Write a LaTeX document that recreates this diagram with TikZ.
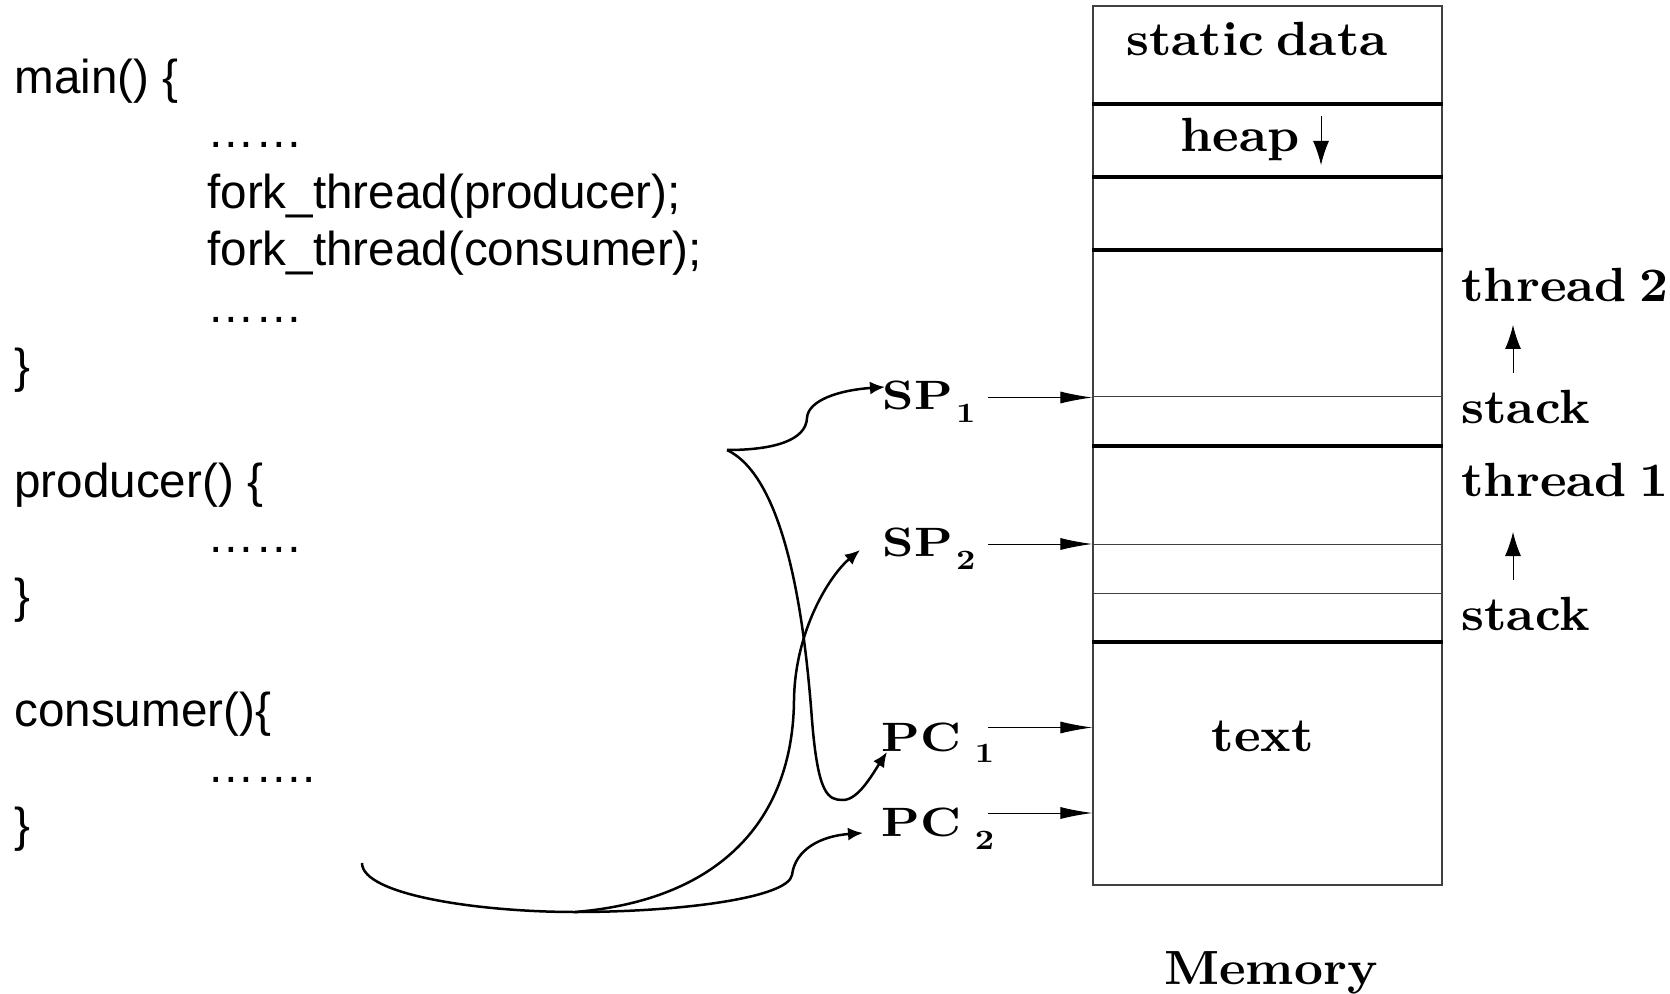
\documentclass[tikz,border=0pt]{standalone}
\usepackage{fontspec}
\newfontfamily\codefont{Liberation Sans}
\newfontfamily\labfont{lmroman10-bold}[Extension=.otf, FakeStretch=1.05, WordSpace=0.65]
\newfontfamily\regfont{lmroman10-bold}[Extension=.otf, FakeStretch=1.2]
\usetikzlibrary{arrows.meta}
\newcommand\regsub[2]{\raisebox{#1}{\fontsize{14}{16}\selectfont #2}}
\begin{document}
\begin{tikzpicture}[x=0.5pt,y=-0.5pt,
  code/.style={font=\codefont\fontsize{23.8}{28}\selectfont, anchor=base west, inner sep=0pt},
  lab/.style={font=\labfont\fontsize{24}{28}\selectfont, inner sep=0pt},
  reg/.style={font=\regfont\fontsize{20.5}{24}\selectfont, anchor=base west, inner sep=0pt},
  curve/.style={line width=1.25pt, -{Latex[length=7.5pt,width=6.5pt]}},
  ptr/.style={line width=0.5pt, -{Latex[length=16pt,width=6pt]}},
  growarrow/.style={line width=0.5pt, -{Latex[length=12pt,width=8pt]}},
  heavysep/.style={line width=2pt},
  lightsep/.style={line width=0.5pt, black!75},
]
\useasboundingbox (0,0) rectangle (1670,994);

% ---- program text ----
\node[code] (main)  at (14,94)  {main() \{};
\node[code] (m1)    at (207,148) {……};
\node[code] (fp)    at (207,209) {fork\_thread(producer);};
\node[code] (fc)    at (207,266) {fork\_thread(consumer);};
\node[code] (m2)    at (207,323) {……};
\node[code] (mend)  at (14,383) {\}};
\node[code] (prod)  at (14,497) {producer() \{};
\node[code] (p1)    at (207,552) {……};
\node[code] (pend)  at (14,612) {\}};
\node[code] (cons)  at (14,726) {consumer()\{};
\node[code] (c1)    at (207,782) {…….};
\node[code] (cend)  at (14,841) {\}};

% ---- memory layout ----
\node[draw=black!75, line width=0.6pt, minimum width=174.5pt, minimum height=439.5pt, inner sep=0pt] (mem) at (1267.5,445.5) {};
\foreach \y in {104,177,250,446,642}
  \draw[heavysep] (mem.west |- 0,\y) -- (mem.east |- 0,\y);
\foreach \y in {397,544,593}
  \draw[lightsep] (mem.west |- 0,\y) -- (mem.east |- 0,\y);

\node[lab, anchor=base] (static) at (1257,56)  {static data};
\node[lab, anchor=base] (heap)   at (1240,152) {heap};
\node[lab, anchor=base] (text)   at (1263,751) {text};
\node[lab, anchor=base] (memname) at (1271,984) {Memory};

\coordinate (hg1) at (1321,116);
\coordinate (hg2) at (1321,165);
\draw[growarrow] (hg1) -- (hg2);

\node[lab, anchor=base west] (th2) at (1461,302) {thread 2};
\node[lab, anchor=base west] (st2) at (1461,423) {stack};
\node[lab, anchor=base west] (th1) at (1461,496) {thread 1};
\node[lab, anchor=base west] (st1) at (1461,630) {stack};

\coordinate (g2a) at (1513,373);
\coordinate (g2b) at (1513,325);
\coordinate (g1a) at (1513,580);
\coordinate (g1b) at (1513,532);
\draw[growarrow] (g2a) -- (g2b);
\draw[growarrow] (g1a) -- (g1b);

% ---- registers ----
\node[reg] (sp1) at (882.5,410)   {SP\kern1.5pt\regsub{-6.3pt}{1}};
\node[reg] (sp2) at (882.5,556.7) {SP\kern1.5pt\regsub{-6.3pt}{2}};
\node[reg] (pc1) at (881,751.7)   {PC\kern7pt\regsub{-5.6pt}{1}};
\node[reg] (pc2) at (881,836.7)   {PC\kern7pt\regsub{-6.5pt}{2}};

\coordinate (sp1a) at (988,397.5);
\coordinate (sp2a) at (988,544);
\coordinate (pc1a) at (988,727.5);
\coordinate (pc2a) at (988,813);
\draw[ptr] (sp1a) -- (sp1a -| mem.west);
\draw[ptr] (sp2a) -- (sp2a -| mem.west);
\draw[ptr] (pc1a) -- (pc1a -| mem.west);
\draw[ptr] (pc2a) -- (pc2a -| mem.west);

% ---- thread creation curves ----
\coordinate (fork) at (727,450);
\coordinate (sp1in) at (885,387);
\coordinate (pc1in) at (887,752);
\coordinate (cstart) at (362,863);
\coordinate (cbot) at (575,912);
\coordinate (sp2in) at (860,550);
\coordinate (pc2in) at (863,833);

\draw[curve] (fork) .. controls (775,450) and (806,440) .. (807,418)
                    .. controls (808,400) and (840,390) .. (sp1in);
\draw[curve] (fork) .. controls (790,480) and (806,640) .. (812,720)
                    .. controls (818,795) and (828,800) .. (843,800)
                    .. controls (858,800) and (872,775) .. (pc1in);
\draw[line width=1.25pt] (cstart) .. controls (362,895) and (480,912) .. (cbot);
\draw[curve] (cbot) .. controls (720,900) and (793,820) .. (794,700)
                    .. controls (795,630) and (830,575) .. (sp2in);
\draw[curve] (cbot) .. controls (680,912) and (788,898) .. (792,875)
                    .. controls (795,850) and (820,836) .. (pc2in);
\end{tikzpicture}
\end{document}
